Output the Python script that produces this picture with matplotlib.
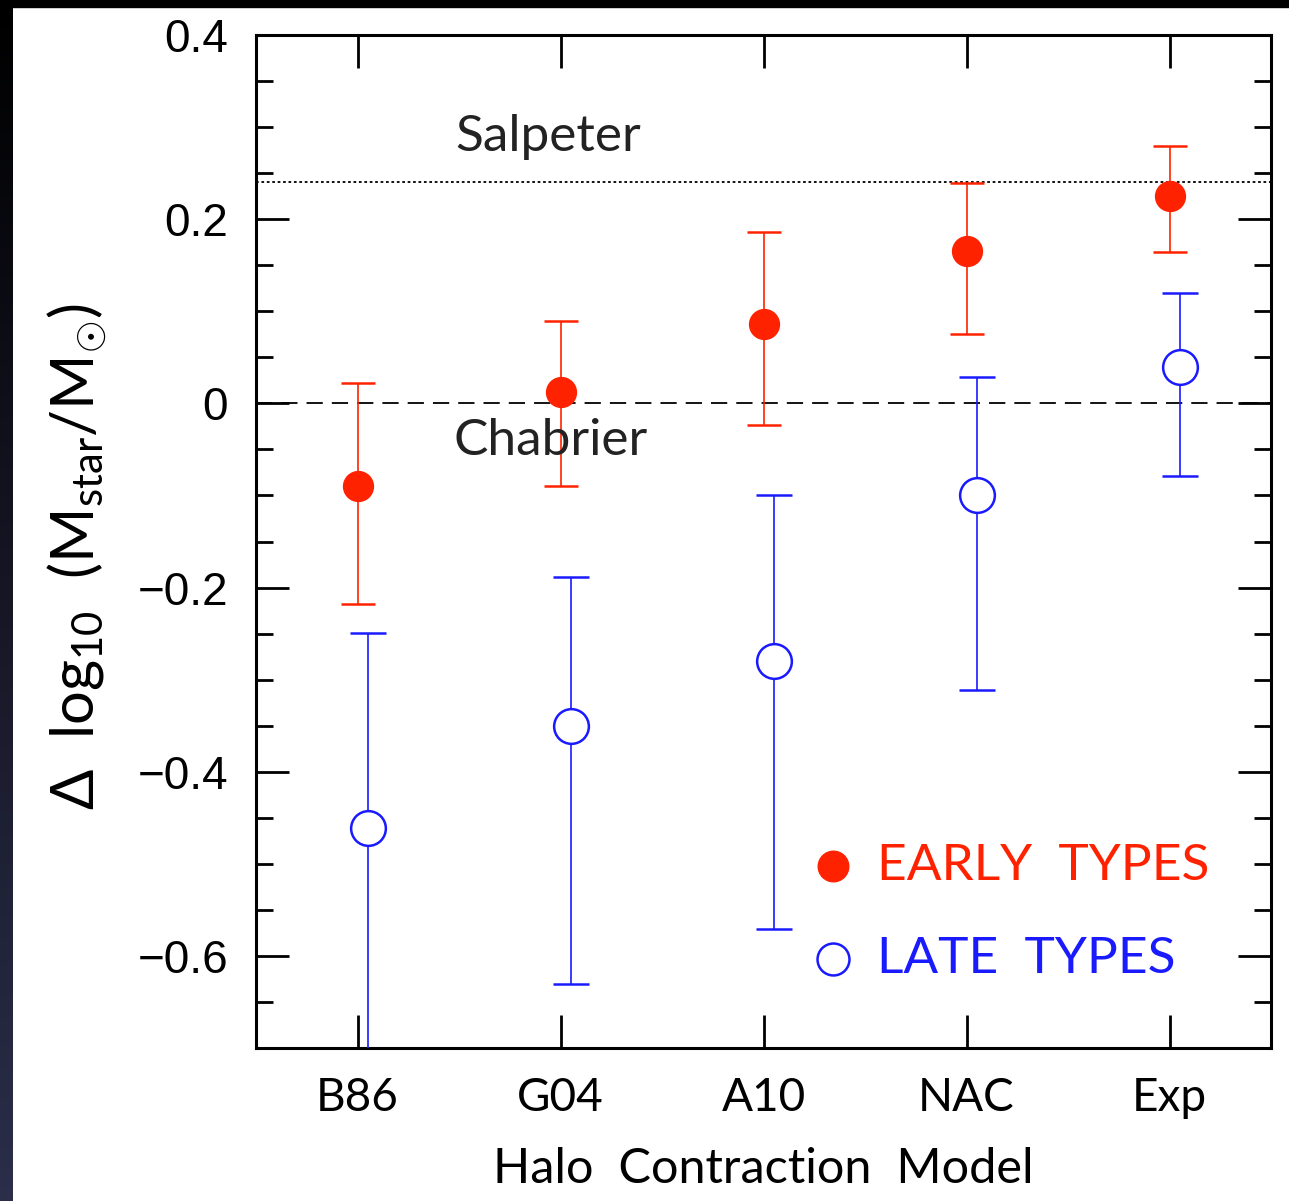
import numpy as np
import matplotlib.pyplot as plt
from matplotlib.patches import Rectangle

# halo contraction models
models = ['B86', 'G04', 'A10', 'NAC', 'Exp']

# early types: value, upper and lower end of error bar
early_val = [-0.090, 0.012, 0.086, 0.165, 0.225]
early_hi = [0.022, 0.089, 0.186, 0.239, 0.280]
early_lo = [-0.218, -0.090, -0.024, 0.075, 0.164]

# late types
late_val = [-0.461, -0.350, -0.280, -0.099, 0.040]
late_hi = [-0.249, -0.189, -0.100, 0.029, 0.120]
late_lo = [-0.800, -0.630, -0.571, -0.311, -0.079]

salpeter = 0.24
chabrier = 0.0

RED = '#ff2200'
BLUE = '#1a1aff'
TXT = dict(family=['Lato', 'DejaVu Sans'], fontweight='normal')

plt.rcParams['font.family'] = ['Liberation Sans', 'DejaVu Sans']
plt.rcParams['mathtext.fontset'] = 'custom'
plt.rcParams['mathtext.rm'] = 'Lato'
plt.rcParams['mathtext.it'] = 'Lato'

fig = plt.figure(figsize=(12.89, 12.01), dpi=100, facecolor='white')

# dark frame on top and left edge
fig.add_artist(Rectangle((0, 1 - 7 / 1201), 1, 7 / 1201, transform=fig.transFigure,
                         color='black', zorder=0))
strip = fig.add_axes([0, 0, 13 / 1289, 1])
grad = np.linspace(0, 1, 256)[:, None]
cols = np.array([[0, 0, 0], [0.17, 0.18, 0.29]])
img = (cols[0] * (1 - grad[..., None]) + cols[1] * grad[..., None])
strip.imshow(img, aspect='auto', extent=(0, 1, 0, 1), origin='upper')
strip.axis('off')

ax = fig.add_axes([256 / 1289, 153 / 1201, 1015 / 1289, 1013 / 1201])

x = np.arange(1, len(models) + 1)
early_val = np.array(early_val)
late_val = np.array(late_val)
early_err = [early_val - np.array(early_lo), np.array(early_hi) - early_val]
late_err = [late_val - np.array(late_lo), np.array(late_hi) - late_val]

ax.axhline(salpeter, color='black', lw=1.3, ls=(0, (1.5, 1.5)), zorder=1)
ax.axhline(chabrier, color='black', lw=1.3, ls=(0, (9, 5)), zorder=1)

ax.errorbar(x, early_val, yerr=early_err, fmt='o', color=RED, ms=21.5,
            mec=RED, ecolor=RED, elinewidth=1.2, capsize=12, capthick=1.8,
            zorder=3)
ax.errorbar(x + 0.05, late_val, yerr=late_err, fmt='o', mfc='white', mec=BLUE,
            mew=1.8, ms=25, ecolor=BLUE, elinewidth=1.2, capsize=13,
            capthick=1.8, zorder=3)

ax.text(1.94, 0.289, 'Salpeter', fontsize=37, ha='center', va='center',
        color='#222222', **TXT)
ax.text(1.95, -0.041, 'Chabrier', fontsize=37, ha='center', va='center',
        color='#222222', **TXT)

# legend drawn by hand
ax.plot([3.342], [-0.502], 'o', color=RED, ms=22)
ax.plot([3.342], [-0.603], 'o', mfc='white', mec=BLUE, mew=1.8, ms=23)
ax.text(3.56, -0.502, 'EARLY  TYPES', color=RED, fontsize=37, va='center',
        ha='left', **TXT)
ax.text(3.56, -0.603, 'LATE  TYPES', color=BLUE, fontsize=37, va='center',
        ha='left', **TXT)

ax.set_xlim(0.5, 5.5)
ax.set_ylim(-0.7, 0.4)
ax.set_xticks(x)
ax.set_xticklabels(models, **TXT)
ax.set_yticks([-0.6, -0.4, -0.2, 0, 0.2, 0.4])
ax.set_yticklabels(['\u22120.6', '\u22120.4', '\u22120.2', '0', '0.2', '0.4'])
ax.set_yticks(np.arange(-0.7, 0.41, 0.05), minor=True)

ax.tick_params(axis='both', which='major', direction='in', length=24, width=2,
               top=True, right=True, labelsize=33, color='black')
ax.tick_params(axis='y', which='minor', direction='in', length=12, width=2,
               right=True)
ax.tick_params(axis='y', which='major', pad=20)
ax.tick_params(axis='x', which='major', pad=21)
for s in ax.spines.values():
    s.set_linewidth(2.2)

ax.set_xlabel('Halo  Contraction  Model', fontsize=35, labelpad=20, **TXT)
ax.set_ylabel(r'$\Delta$  log$_{10}$  (M$_{\rm star}$/M$_{\odot}$)', fontsize=43,
              **TXT)
ax.yaxis.set_label_coords(-0.145, 0.485)

fig.savefig('out.png', dpi=100, facecolor='white')
